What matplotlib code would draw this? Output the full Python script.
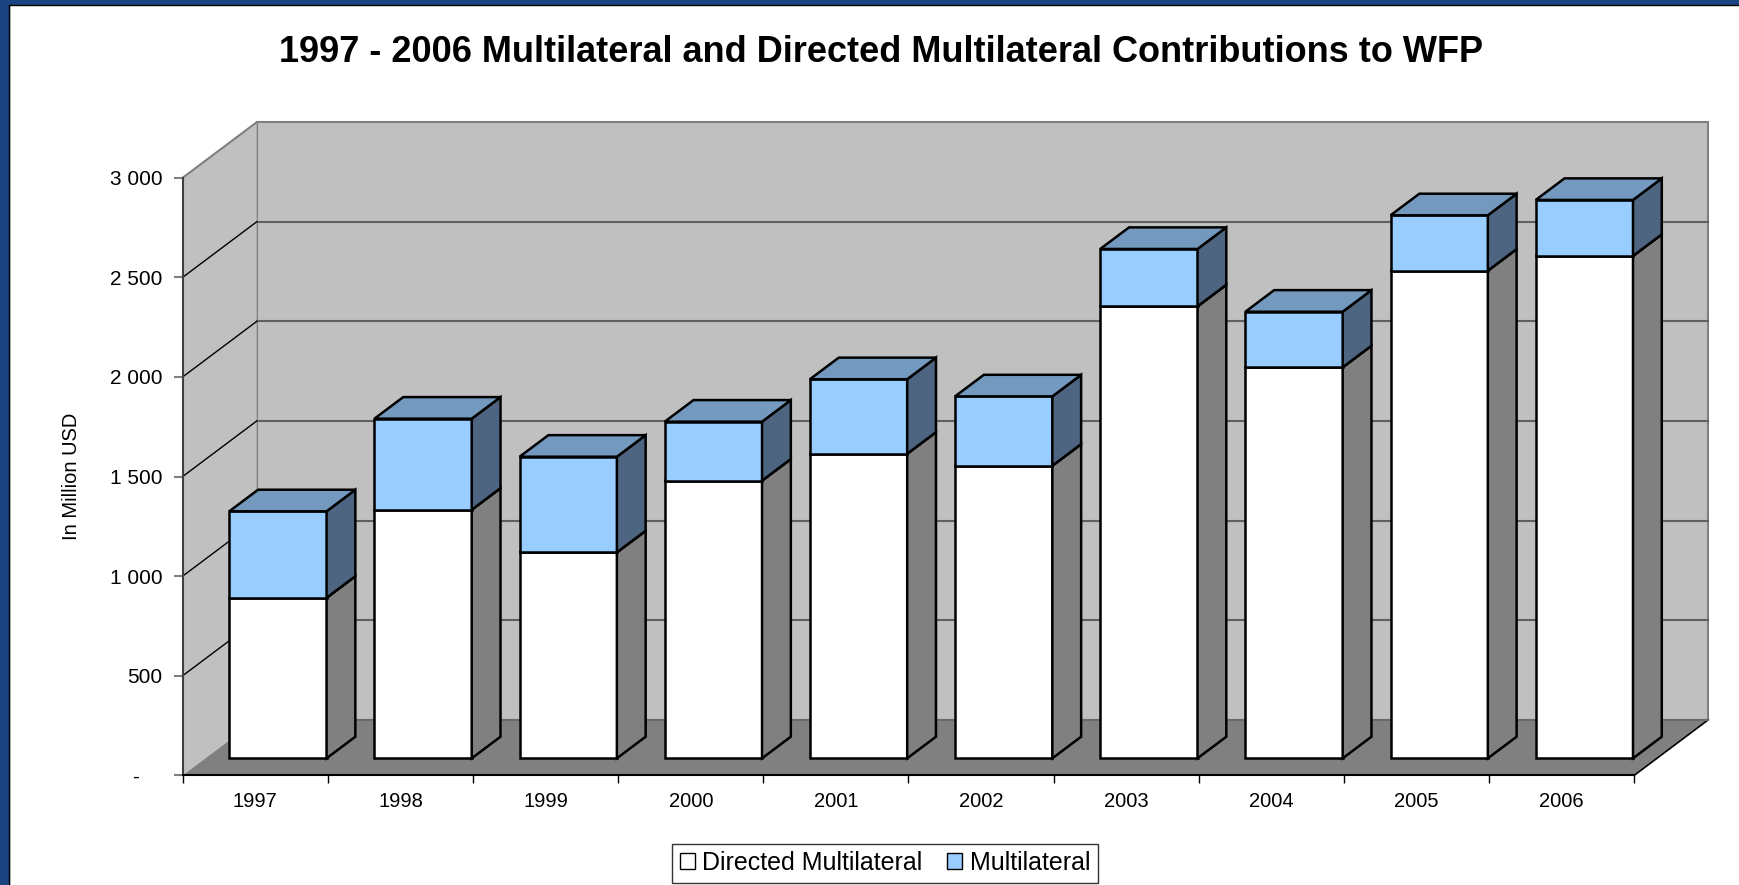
import matplotlib
matplotlib.use("Agg")
import matplotlib.pyplot as plt
from matplotlib.patches import Polygon, Patch, Rectangle
from matplotlib.lines import Line2D

plt.rcParams['font.family'] = ['Liberation Sans', 'DejaVu Sans']

years = ['1997', '1998', '1999', '2000', '2001', '2002', '2003', '2004', '2005', '2006']
directed = [806, 1248, 1034, 1394, 1529, 1469, 2269, 1963, 2448, 2522]
multilateral = [434, 457, 480, 296, 374, 348, 288, 279, 278, 281]
yticks = [0, 500, 1000, 1500, 2000, 2500, 3000]

W, H = 1740, 885
fig = plt.figure(figsize=(17.4, 8.85), dpi=100)
fig.patch.set_facecolor('white')

# front plane of the 3d box
ax = fig.add_axes([182.7 / W, 1 - 775.3 / H, 1451.6 / W, 597.6 / H])
ax.patch.set_visible(False)
n = len(years)
ymax = yticks[-1]
ax.set_xlim(0, n)
ax.set_ylim(0, ymax)

# depth of the box in data units
ddx = 74 / 1451.6 * n
ddy = 55.5 / 597.6 * ymax


def poly(pts, fc, ec='none', lw=0, z=1):
    ax.add_patch(Polygon(pts, closed=True, facecolor=fc, edgecolor=ec,
                         linewidth=lw, zorder=z, clip_on=False, joinstyle='miter'))


def line(xs, ys, c, lw, z=1.5):
    ax.add_line(Line2D(xs, ys, color=c, linewidth=lw, zorder=z, clip_on=False))


# walls and floor
poly([(ddx, ddy), (n + ddx, ddy), (n + ddx, ymax + ddy), (ddx, ymax + ddy)], '#C0C0C0', '#808080', 1.5, 0.5)
poly([(0, 0), (ddx, ddy), (ddx, ymax + ddy), (0, ymax)], '#C0C0C0', 'none', 0, 0.6)
poly([(0, 0), (n, 0), (n + ddx, ddy), (ddx, ddy)], '#808080', 'none', 0, 0.7)
line([0, ddx], [ymax, ymax + ddy], '#808080', 1.5)
line([n, n + ddx], [0, ddy], 'black', 1.2)
line([ddx, n + ddx], [ddy, ddy], '#6A6A6A', 1.5)

for v in yticks[1:-1]:
    line([ddx, n + ddx], [v + ddy, v + ddy], '#606060', 1.5)
    line([0, ddx], [v, v + ddy], 'black', 1.0)

# bars
f0, f1 = 0.306, 0.695
gap = 0.165
segs = [(directed, 'white', '#808080', '#BFBFBF'),
        (multilateral, '#99CCFF', '#4D6580', '#7399BF')]
for i in range(n):
    x0 = i + gap
    x1 = i + 1 - gap
    base = 0
    for vals, front, side, top in segs:
        yb = base
        yt = base + vals[i]
        a = (f0 * ddx, f0 * ddy)
        b = (f1 * ddx, f1 * ddy)
        z = 3 + i * 0.01
        poly([(x0 + a[0], yb + a[1]), (x1 + a[0], yb + a[1]), (x1 + a[0], yt + a[1]), (x0 + a[0], yt + a[1])],
             front, 'black', 1.8, z)
        poly([(x1 + a[0], yb + a[1]), (x1 + b[0], yb + b[1]), (x1 + b[0], yt + b[1]), (x1 + a[0], yt + a[1])],
             side, 'black', 1.8, z)
        poly([(x0 + a[0], yt + a[1]), (x1 + a[0], yt + a[1]), (x1 + b[0], yt + b[1]), (x0 + b[0], yt + b[1])],
             top, 'black', 1.8, z)
        base = yt

# axes
for s in ['top', 'right']:
    ax.spines[s].set_visible(False)
ax.spines['left'].set_color('#404040')
ax.spines['left'].set_linewidth(1.5)
ax.spines['bottom'].set_color('black')
ax.spines['bottom'].set_linewidth(1.5)
ax.spines['left'].set_zorder(2)
ax.spines['bottom'].set_zorder(2)

ax.set_xticks(range(n + 1))
ax.set_xticklabels([])
ax.set_xticks([i + 0.5 for i in range(n)], minor=True)
ax.set_xticklabels(years, minor=True, fontsize=14.5)
ax.tick_params(axis='x', which='major', length=6, width=1, color='black', direction='out')
ax.tick_params(axis='x', which='minor', length=0, pad=12)

ax.set_yticks(yticks)
ax.set_yticklabels([('{:,}'.format(v).replace(',', ' ') if v else '-    ') for v in yticks], fontsize=15)
ax.tick_params(axis='y', length=6.5, width=1.5, color='#808080', pad=8)

fig.text(72 / W, 1 - 476 / H, 'In Million USD', rotation=90, ha='center', va='center', fontsize=14.5)
fig.text(881 / W, 1 - 53 / H, '1997 - 2006 Multilateral and Directed Multilateral Contributions to WFP',
         ha='center', va='center', fontsize=26, fontweight='bold')

handles = [Patch(facecolor='white', edgecolor='black', label='Directed Multilateral'),
           Patch(facecolor='#99CCFF', edgecolor='black', label='Multilateral')]
leg = fig.legend(handles=handles, loc='center', bbox_to_anchor=(885 / W, 1 - 863 / H), ncol=2,
                 frameon=True, fancybox=False, edgecolor='black', fontsize=18,
                 handlelength=0.6, handleheight=0.6, handletextpad=0.3, columnspacing=1.0,
                 borderpad=0.3, borderaxespad=0)
leg.get_frame().set_linewidth(1)

# dark blue frame on the left and top
blue = '#1B4582'
fig.add_artist(Rectangle((0, 0), 9 / W, 1, transform=fig.transFigure, color=blue, zorder=10))
fig.add_artist(Rectangle((0, 1 - 4 / H), 1, 4 / H, transform=fig.transFigure, color=blue, zorder=10))
fig.add_artist(Line2D([9.5 / W, 9.5 / W], [0, 1 - 4.5 / H], transform=fig.transFigure, color='black', lw=1, zorder=11))
fig.add_artist(Line2D([9.5 / W, 1], [1 - 4.5 / H, 1 - 4.5 / H], transform=fig.transFigure, color='black', lw=1, zorder=11))

fig.savefig('out.png', dpi=100)
